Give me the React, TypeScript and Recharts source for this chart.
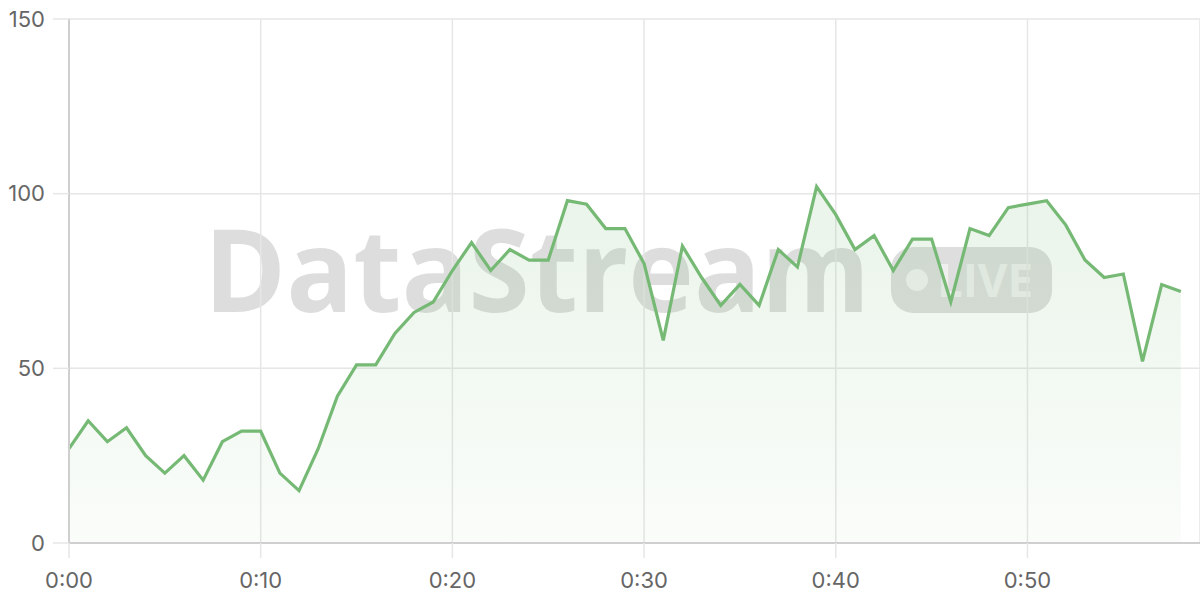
import React from "react";
import { ComposedChart, Area, XAxis, YAxis, CartesianGrid } from "recharts";

// minute index (0:00 .. 0:58)
const minutes = [
  0, 1, 2, 3, 4, 5, 6, 7, 8, 9, 10, 11, 12, 13, 14, 15, 16, 17, 18, 19,
  20, 21, 22, 23, 24, 25, 26, 27, 28, 29, 30, 31, 32, 33, 34, 35, 36, 37, 38, 39,
  40, 41, 42, 43, 44, 45, 46, 47, 48, 49, 50, 51, 52, 53, 54, 55, 56, 57, 58,
];
const values = [
  27, 35, 29, 33, 25, 20, 25, 18, 29, 32, 32, 20, 15, 27, 42, 51, 51, 60, 66, 69,
  78, 86, 78, 84, 81, 81, 98, 97, 90, 90, 80, 58, 85, 76, 68, 74, 68, 84, 79, 102,
  94, 84, 88, 78, 87, 87, 69, 90, 88, 96, 97, 98, 91, 81, 76, 77, 52, 74, 72,
];
const xTicks = [0, 10, 20, 30, 40, 50];
const yTicks = [0, 50, 100, 150];

const data = minutes.map((m, i) => ({ t: m, v: values[i] }));
const fmt = (m: number) => `0:${m < 10 ? "0" + m : m}`;

const tickFont = { fontFamily: "Inter, 'DejaVu Sans', sans-serif", fontSize: 22, fill: "#666" };

export default function App() {
  return (
    <div style={{ position: "absolute", left: 0, top: 0, width: 1200, height: 600, background: "#fff" }}>
      <svg width={1200} height={600} style={{ position: "absolute", left: 0, top: 0 }}>
        <text
          x={204}
          y={312}
          fontFamily="'Open Sans', sans-serif"
          fontWeight={700}
          fontSize={114}
          fill="rgba(0,0,0,0.135)"
          textLength={666}
          lengthAdjust="spacingAndGlyphs"
        >
          DataStream
        </text>
        <rect x={891} y={247} width={161} height={66} rx={22} ry={22} fill="rgba(0,0,0,0.13)" />
        <circle cx={917} cy={280} r={11} fill="rgba(255,255,255,0.6)" />
        <text
          x={937}
          y={297}
          fontFamily="'Open Sans', sans-serif"
          fontWeight={700}
          fontSize={47}
          fill="rgba(255,255,255,0.55)"
          textLength={96}
          lengthAdjust="spacingAndGlyphs"
        >
          LIVE
        </text>
      </svg>
      <div style={{ position: "absolute", left: 0, top: 0 }}>
        <ComposedChart width={1200} height={600} data={data} margin={{ top: 19, right: 0, bottom: 0, left: 0 }}>
          <defs>
            <linearGradient id="fillG" x1="0" y1="0" x2="0" y2="1">
              <stop offset="0%" stopColor="#75b975" stopOpacity={0.26} />
              <stop offset="100%" stopColor="#75b975" stopOpacity={0.06} />
            </linearGradient>
          </defs>
          <CartesianGrid stroke="#e6e6e6" strokeWidth={1.5} />
          <XAxis
            dataKey="t"
            type="number"
            domain={[0, 59]}
            ticks={xTicks}
            tickFormatter={fmt}
            height={57}
            tickSize={15}
            tickMargin={14}
            tick={tickFont}
            tickLine={{ stroke: "#e6e6e6", strokeWidth: 1.5 }}
            axisLine={{ stroke: "#cfcfcf", strokeWidth: 2 }}
            interval={0}
          />
          <YAxis
            domain={[0, 150]}
            ticks={yTicks}
            width={69}
            tickSize={16}
            tickMargin={8}
            tick={tickFont}
            tickLine={{ stroke: "#e6e6e6", strokeWidth: 1.5 }}
            axisLine={{ stroke: "#cfcfcf", strokeWidth: 2 }}
            interval={0}
          />
          <Area
            type="linear"
            dataKey="v"
            stroke="#75b975"
            strokeWidth={3.2}
            fill="url(#fillG)"
            dot={false}
            activeDot={false}
            isAnimationActive={false}
          />
        </ComposedChart>
      </div>
    </div>
  );
}
